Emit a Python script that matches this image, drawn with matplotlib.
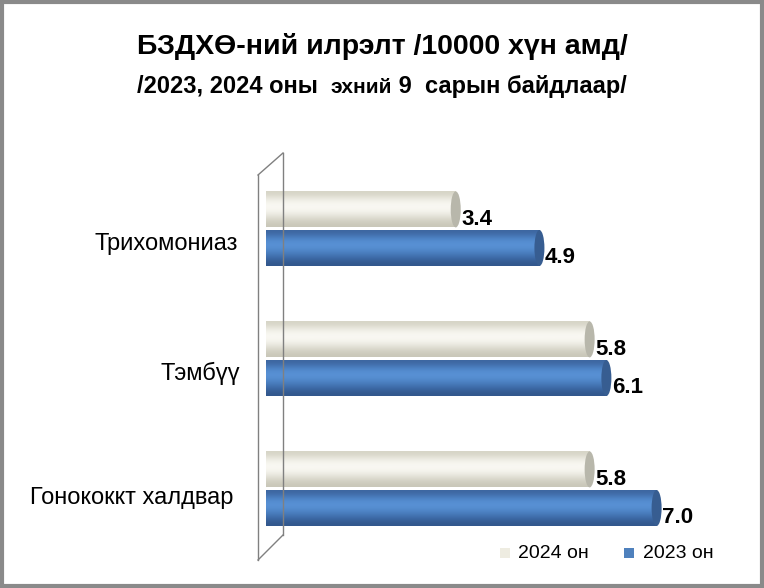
import matplotlib
matplotlib.use("Agg")
import matplotlib.pyplot as plt
from matplotlib.patches import Rectangle, Ellipse
from matplotlib.lines import Line2D
import numpy as np

plt.rcParams['font.family'] = ['Liberation Sans', 'DejaVu Sans']

categories = ['Трихомониаз', 'Тэмбүү', 'Гонококкт халдвар']
vals_2024 = [3.4, 5.8, 5.8]
vals_2023 = [4.9, 6.1, 7.0]
series_names = ['2024 он', '2023 он']

W, H = 764, 588
fig = plt.figure(figsize=(W / 100, H / 100), dpi=100)

def fx(px):
    return px / W

def fy(py):
    return 1 - py / H

# axes placed in pixel terms: x=0 at px 266, 1 unit ~ 55.8 px
ax_l, ax_r = 266, 266 + 55.8 * 8
ax_t, ax_b = 150, 560
ax = fig.add_axes([fx(ax_l), fy(ax_b), fx(ax_r - ax_l), (ax_b - ax_t) / H])
ax.axis('off')

bar_h = 36 / 130
cap_w = 10 / 55.8

grad_2024 = ['#d6d4c6', '#f1f0e8', '#fbfaf5', '#f4f3ec', '#dddbcf', '#c9c7b9']
grad_2023 = ['#3d66a0', '#5088cc', '#5b94d8', '#4f86c8', '#3f6dab', '#32578c']
cap_2024 = '#b8b7ab'
cap_2023 = '#375d91'


def hex2rgb(c):
    return [int(c[i:i + 2], 16) / 255 for i in (1, 3, 5)]


def cylinder(y0, v, grad, cap):
    img = np.array([hex2rgb(c) for c in grad]).reshape(len(grad), 1, 3)
    clip = Rectangle((0, y0 - bar_h / 2), v, bar_h, transform=ax.transData,
                     facecolor='none', edgecolor='none')
    ax.add_patch(clip)
    im = ax.imshow(img, extent=[0, v, y0 + bar_h / 2, y0 - bar_h / 2],
                   aspect='auto', interpolation='bicubic', zorder=2)
    im.set_clip_path(clip)
    ax.add_patch(Ellipse((0, y0), cap_w, bar_h, facecolor=grad[2],
                         edgecolor='none', zorder=1.9))
    ax.add_patch(Ellipse((v, y0), cap_w, bar_h, facecolor=cap,
                         edgecolor='none', zorder=3))


label_right = [28, 26, 33]  # px left of bar start
label_dy = [0.11, 0.1, 0.06]
for i, cat in enumerate(categories):
    y24 = i - bar_h / 2 - 0.02
    y23 = i + bar_h / 2
    cylinder(y24, vals_2024[i], grad_2024, cap_2024)
    cylinder(y23, vals_2023[i], grad_2023, cap_2023)
    ax.text(vals_2024[i] + 0.1, y24 + 0.08, f'{vals_2024[i]:.1f}',
            ha='left', va='center', fontsize=16, fontweight='bold', zorder=4)
    ax.text(vals_2023[i] + 0.1, y23 + 0.07, f'{vals_2023[i]:.1f}',
            ha='left', va='center', fontsize=16, fontweight='bold', zorder=4)
    ax.text(-label_right[i] / 55.8, i + label_dy[i], cat, ha='right',
            va='center', fontsize=17)

ax.set_xlim(0, 8)
ax.set_ylim((ax_b - 230) / 130, (ax_t - 230) / 130)

# back wall outline
wall = [((258, 175), (258, 560)), ((283, 153), (283, 535)),
        ((258, 175), (283, 153)), ((258, 560), (283, 535))]
for (x1, y1), (x2, y2) in wall:
    fig.add_artist(Line2D([fx(x1), fx(x2)], [fy(y1), fy(y2)],
                          color='#808080', lw=1, zorder=0.5))

# titles
fig.text(0.5, fy(47), 'БЗДХӨ-ний илрэлт /10000 хүн амд/', ha='center',
         va='center', fontsize=20.5, fontweight='bold')

parts = [('/2023, 2024 оны  ', 17), ('эхний', 15), (' 9  сарын байдлаар/', 17)]
renderer = fig.canvas.get_renderer()
texts = []
for s, size in parts:
    t = fig.text(0, fy(93), s, ha='left', va='baseline', fontsize=size,
                 fontweight='bold')
    texts.append(t)
widths = [t.get_window_extent(renderer).width for t in texts]
x0 = (W - sum(widths)) / 2
for t, w in zip(texts, widths):
    t.set_x(fx(x0))
    x0 += w

# legend
for sx, tx, col, name in [(505, 518, '#eeece1', series_names[0]),
                          (629, 643, '#4f81bd', series_names[1])]:
    fig.add_artist(Rectangle((fx(sx - 5), fy(558)), fx(10), 10 / H,
                             facecolor=col, edgecolor='none'))
    fig.text(fx(tx), fy(553), name, ha='left', va='center', fontsize=14)

# chart border
fig.add_artist(Rectangle((0.002, 0.003), 0.995, 0.994, transform=fig.transFigure,
                         facecolor='none', edgecolor='#8a8a8a', lw=3))

fig.savefig('out.png', dpi=100)
